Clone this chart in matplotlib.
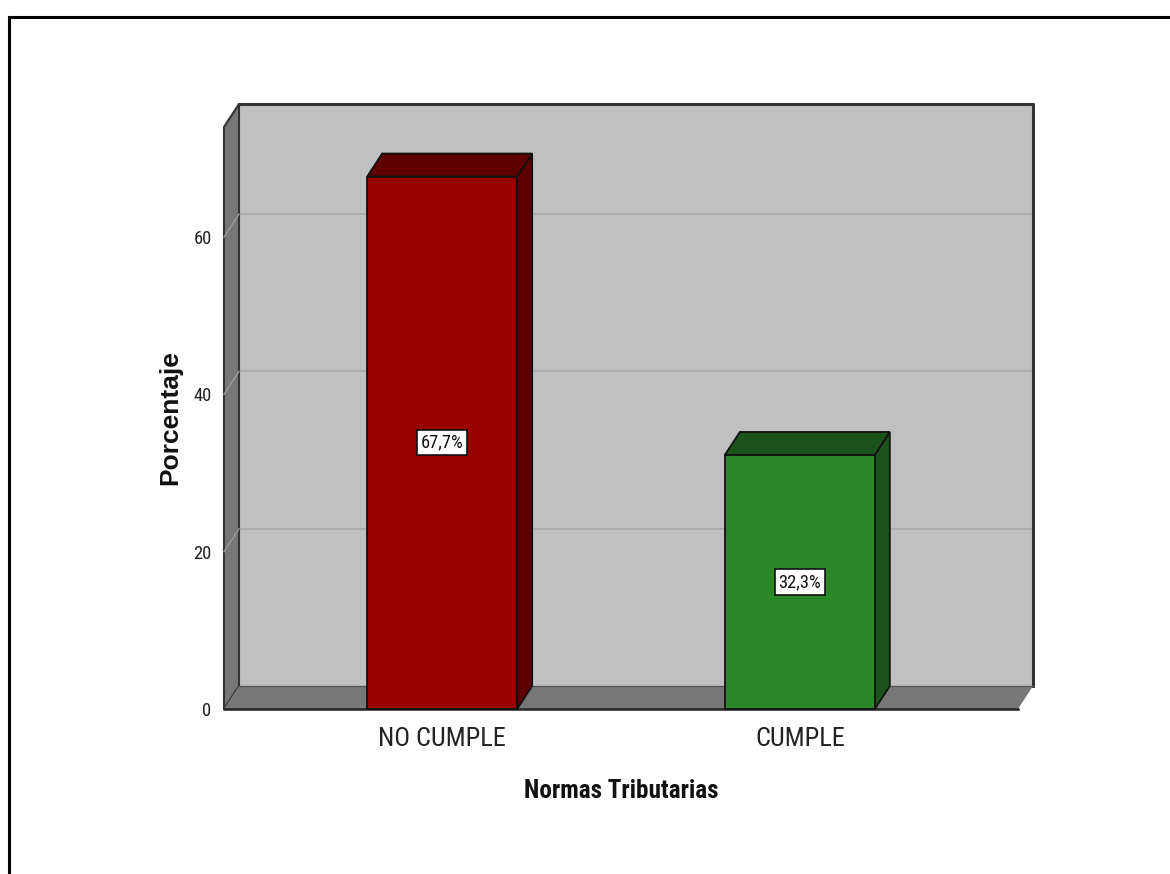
import matplotlib
matplotlib.use("Agg")
import matplotlib.pyplot as plt
from matplotlib import font_manager
from matplotlib.patches import Polygon, Rectangle
from matplotlib.lines import Line2D

# Data
categories = ["NO CUMPLE", "CUMPLE"]
percentages = [67.7, 32.3]
value_labels = ["67,7%", "32,3%"]
y_ticks = [0, 20, 40, 60]

front_colors = ["#990000", "#2a882a"]
shade_colors = ["#5e0000", "#1c521c"]

# Pick a narrow sans-serif if one is installed; otherwise shrink the regular one
available = {f.name for f in font_manager.fontManager.ttflist}
narrow, scale = "Liberation Sans", 0.84
for name, s in [("Liberation Sans Narrow", 1.0), ("Arial Narrow", 1.0),
                ("Roboto Condensed", 0.95), ("Open Sans Condensed", 1.0)]:
    if name in available:
        narrow, scale = name, s
        break

W, H = 1170, 874
fig = plt.figure(figsize=(W / 100, H / 100), dpi=100)
fig.patch.set_facecolor("white")

# Axes covers the front plane of the 3D box
left_px, right_px, zero_px = 224, 1018, 709
ymax = 74.0
px_per_unit = 7.865
height_px = ymax * px_per_unit
ax = fig.add_axes([left_px / W, (H - zero_px) / H, (right_px - left_px) / W, height_px / H])

xl, xr = -0.61, 1.61
ax.set_xlim(xl, xr)
ax.set_ylim(0, ymax)
for s in ax.spines.values():
    s.set_visible(False)
ax.patch.set_visible(False)

x_per_px = (xr - xl) / (right_px - left_px)
dx = 15 * x_per_px          # depth offset along x (data units)
dy = 23 / px_per_unit       # depth offset along y (data units)

wall_edge = "#333333"

# Back wall
ax.add_patch(Rectangle((xl + dx, dy), (xr - xl), ymax, facecolor="#c0c0c0",
                       edgecolor="none", clip_on=False, zorder=1))
for t in y_ticks[1:]:
    ax.add_line(Line2D([xl + dx, xr + dx], [t + dy, t + dy], color="#a9a9a9",
                       lw=1.2, clip_on=False, zorder=1.5))
ax.add_line(Line2D([xl + dx, xr + dx, xr + dx], [ymax + dy, ymax + dy, dy],
                   color=wall_edge, lw=2.2, clip_on=False, zorder=2))

# Left wall
ax.add_patch(Polygon([(xl, 0), (xl + dx, dy), (xl + dx, ymax + dy), (xl, ymax)],
                     closed=True, facecolor="#777777", edgecolor=wall_edge, lw=1.5,
                     clip_on=False, zorder=2))
for t in y_ticks[1:]:
    ax.add_line(Line2D([xl, xl + dx], [t, t + dy], color="#9a9a9a", lw=1.0,
                       clip_on=False, zorder=2.1))

# Floor
ax.add_patch(Polygon([(xl, 0), (xr, 0), (xr + dx, dy), (xl + dx, dy)],
                     closed=True, facecolor="#777777", edgecolor="none",
                     clip_on=False, zorder=2))
ax.add_line(Line2D([xl + dx, xr + dx], [dy, dy], color="#555555", lw=1.0,
                   clip_on=False, zorder=2.2))
ax.add_line(Line2D([xl, xr], [0, 0], color="#222222", lw=1.8,
                   clip_on=False, zorder=2.3))

# Bars
bw = 150 * x_per_px
for i, (v, fc, sc, lab) in enumerate(zip(percentages, front_colors, shade_colors, value_labels)):
    x0, x1 = i - bw / 2, i + bw / 2
    ax.add_patch(Polygon([(x1, 0), (x1 + dx, dy), (x1 + dx, v + dy), (x1, v)], closed=True,
                         facecolor=sc, edgecolor="#111111", lw=1.3, clip_on=False, zorder=3))
    ax.add_patch(Polygon([(x0, v), (x0 + dx, v + dy), (x1 + dx, v + dy), (x1, v)], closed=True,
                         facecolor=sc, edgecolor="#111111", lw=1.3, clip_on=False, zorder=3))
    ax.add_patch(Rectangle((x0, 0), bw, v, facecolor=fc, edgecolor="#111111", lw=1.3,
                           clip_on=False, zorder=4))
    ax.text(i, v / 2, lab, ha="center", va="center", fontsize=14 * scale, family=narrow,
            color="#111111", zorder=5,
            bbox=dict(boxstyle="square,pad=0.2", facecolor="white", edgecolor="#111111", lw=1.2))

# Axis ticks and labels
ax.set_yticks(y_ticks)
ax.set_yticklabels([str(t) for t in y_ticks], fontsize=14 * scale, family=narrow, color="#222222")
ax.tick_params(axis="y", length=0, pad=9)
ax.set_xticks(range(len(categories)))
ax.set_xticklabels(categories, fontsize=20 * scale, family=narrow, color="#222222")
ax.tick_params(axis="x", length=0, pad=13)

ax.set_xlabel("Normas Tributarias", fontsize=19 * scale, family=narrow, fontweight="bold",
              color="#111111", va="center")
ax.xaxis.set_label_coords(0.5, -0.141)
ax.set_ylabel("Porcentaje", fontsize=19, family="Liberation Sans", fontweight="bold",
              color="#111111", va="center")
ax.yaxis.set_label_coords(-0.068, 0.5)

# Outer frame
fx, fy = 8.5 / W, 1 - 16.5 / H
fig.add_artist(Line2D([fx, fx], [fy, -0.01], transform=fig.transFigure, color="black", lw=2.2))
fig.add_artist(Line2D([fx, 1.01], [fy, fy], transform=fig.transFigure, color="black", lw=2.2))

fig.savefig("out.png", dpi=100, facecolor="white")
